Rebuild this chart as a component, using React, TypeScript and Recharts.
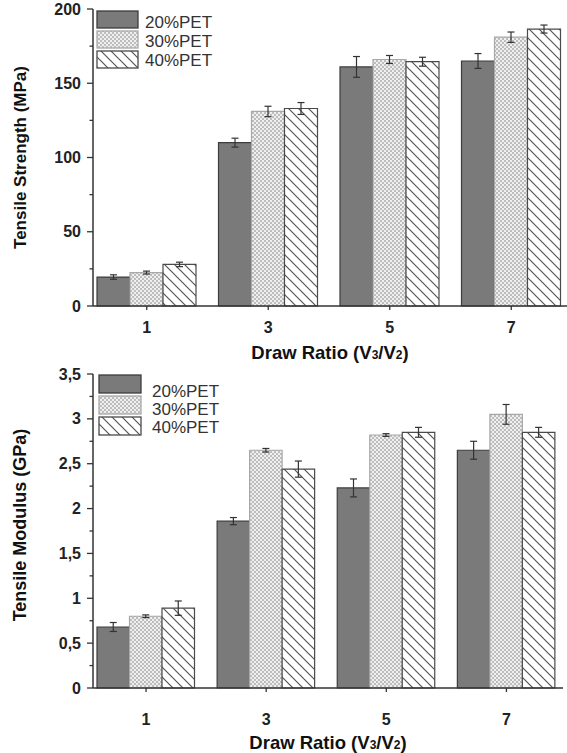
import React from 'react';
import { BarChart, Bar, XAxis, YAxis, ErrorBar, Legend } from 'recharts';

const categories = ['1', '3', '5', '7'];
const seriesNames = ['20%PET', '30%PET', '40%PET'];

const strength20 = [19.5, 110, 161, 165];
const strength30 = [22.5, 131, 166, 181];
const strength40 = [28, 133, 164.5, 186.5];
const strengthErr20 = [1.5, 3, 7, 5];
const strengthErr30 = [1, 3.5, 2.7, 3.5];
const strengthErr40 = [1.5, 4, 3, 2.7];

const modulus20 = [0.68, 1.86, 2.23, 2.65];
const modulus30 = [0.8, 2.65, 2.82, 3.05];
const modulus40 = [0.89, 2.44, 2.85, 2.85];
const modulusErr20 = [0.05, 0.04, 0.1, 0.1];
const modulusErr30 = [0.015, 0.02, 0.015, 0.11];
const modulusErr40 = [0.08, 0.09, 0.055, 0.055];

const strengthTicks = [0, 25, 50, 75, 100, 125, 150, 175, 200];
const strengthMajor = [0, 50, 100, 150, 200];
const modulusTicks = [0, 0.25, 0.5, 0.75, 1, 1.25, 1.5, 1.75, 2, 2.25, 2.5, 2.75, 3, 3.25, 3.5];
const modulusMajor = [0, 0.5, 1, 1.5, 2, 2.5, 3, 3.5];

const strengthData = categories.map((c, i) => ({
  cat: c,
  s20: strength20[i], e20: strengthErr20[i],
  s30: strength30[i], e30: strengthErr30[i],
  s40: strength40[i], e40: strengthErr40[i],
}));
const modulusData = categories.map((c, i) => ({
  cat: c,
  s20: modulus20[i], e20: modulusErr20[i],
  s30: modulus30[i], e30: modulusErr30[i],
  s40: modulus40[i], e40: modulusErr40[i],
}));

const FONT = '"Liberation Sans", Arial, Helvetica, sans-serif';
const seriesKeys = ['s20', 's30', 's40'];
const errKeys = ['e20', 'e30', 'e40'];
const seriesStyles: Record<string, { fill: string; stroke: string }> = {
  s20: { fill: '#7a7a7a', stroke: '#3c3c3c' },
  s30: { fill: 'url(#dots)', stroke: '#a8a8a8' },
  s40: { fill: 'url(#hatch)', stroke: '#4a4a4a' },
};

const isMajor = (v: number, major: number[]) => major.some((m) => Math.abs(m - v) < 1e-6);

const YTick = (p: any) => {
  const { x, y, payload, major, fmt } = p;
  const mj = isMajor(payload.value, major);
  return (
    <g>
      <line x1={x} x2={x - (mj ? 6 : 3.5)} y1={y} y2={y} stroke="#333" strokeWidth={1.3} />
      {mj && (
        <text x={x - 12} y={y} textAnchor="end" dominantBaseline="central" fontFamily={FONT}
          fontWeight="bold" fontSize={16} fill="#222">{fmt(payload.value)}</text>
      )}
    </g>
  );
};

const XTick = (p: any) => {
  const { x, y, payload, off } = p;
  return (
    <g>
      <line x1={x} x2={x} y1={y} y2={y + 4} stroke="#333" strokeWidth={1.3} />
      <text x={x} y={y + off} textAnchor="middle" dominantBaseline="central" fontFamily={FONT}
        fontWeight="bold" fontSize={16} fill="#222">{payload.value}</text>
    </g>
  );
};

const Title = (p: any) => {
  const { viewBox, gap } = p;
  const cx = viewBox.x + viewBox.width / 2;
  return (
    <text x={cx} y={viewBox.y + gap} textAnchor="middle" dominantBaseline="central" fontFamily={FONT}
      fontWeight="bold" fontSize={18.5} fill="#111">
      Draw Ratio (V<tspan fontSize={12} dy={3}>3</tspan><tspan dy={-3}>/V</tspan>
      <tspan fontSize={12} dy={3}>2</tspan><tspan dy={-3}>)</tspan>
    </text>
  );
};

const YTitle = (p: any) => {
  const { viewBox, text, size, cy } = p;
  const c = cy != null ? cy : viewBox.y + viewBox.height / 2;
  return (
    <text transform={`translate(20, ${c}) rotate(-90)`} textAnchor="middle" dominantBaseline="central"
      fontFamily={FONT} fontWeight="bold" fontSize={size} fill="#111">{text}</text>
  );
};

type LegendGeom = { sx: number; sy: number[]; sw: number; sh: number; tx: number; ty: number[]; fs: number };

const LegendBox = (p: any) => {
  const { payload, g } = p;
  const items = (payload || []).slice();
  return (
    <svg width={300} height={100} style={{ display: 'block', overflow: 'visible' }}>
      {items.map((entry: any, idx: number) => {
        const k = String(entry.dataKey);
        const i = seriesKeys.indexOf(k) >= 0 ? seriesKeys.indexOf(k) : idx;
        const st = seriesStyles[seriesKeys[i]];
        return (
          <g key={k}>
            <rect x={g.sx} y={g.sy[i]} width={g.sw} height={g.sh} fill={st.fill} stroke={st.stroke} strokeWidth={1.3} />
            <text x={g.tx} y={g.ty[i]} dominantBaseline="central" fontFamily={FONT} fontSize={g.fs} fill="#333">
              {seriesNames[i]}
            </text>
          </g>
        );
      })}
    </svg>
  );
};

type PanelProps = {
  data: any[]; ticks: number[]; major: number[]; domain: [number, number];
  yLabel: string; yLabelSize: number; yLabelCy?: number; fmt: (v: number) => string; height: number; axisH: number;
  labelOff: number; titleGap: number; padL: number; padR: number; marginRight: number;
  topStroke: string; rightBorder: boolean; legend: LegendGeom; barSize: number;
};

const Panel = (pp: PanelProps) => (
  <BarChart width={567} height={pp.height} data={pp.data} barGap={0} barSize={pp.barSize}
    margin={{ top: 9, right: pp.marginRight, left: 0, bottom: 0 }}>
    <XAxis dataKey="cat" height={pp.axisH} tickSize={0} tickMargin={0} tickLine={false}
      axisLine={{ stroke: '#333', strokeWidth: 1.5 }} padding={{ left: pp.padL, right: pp.padR }}
      interval={0} tick={(p: any) => <XTick {...p} off={pp.labelOff} />}
      label={{ content: (p: any) => <Title {...p} gap={pp.titleGap} /> }} />
    <XAxis xAxisId="top" dataKey="cat" orientation="top" height={0} tick={false} tickLine={false}
      axisLine={{ stroke: pp.topStroke, strokeWidth: 1.5 }} />
    <YAxis width={93} domain={pp.domain} ticks={pp.ticks} interval={0} tickSize={0} tickMargin={0}
      tickLine={false} axisLine={{ stroke: '#333', strokeWidth: 1.5 }}
      tick={(p: any) => <YTick {...p} major={pp.major} fmt={pp.fmt} />}
      label={{ content: (p: any) => <YTitle {...p} text={pp.yLabel} size={pp.yLabelSize} cy={pp.yLabelCy} /> }} />
    {pp.rightBorder && (
      <YAxis yAxisId="right" orientation="right" width={0} domain={pp.domain} tick={false} tickLine={false}
        axisLine={{ stroke: '#444', strokeWidth: 1.5 }} />
    )}
    <Legend layout="vertical" align="center" verticalAlign="middle"
      wrapperStyle={{ left: 0, top: 0, width: 300, height: 100 }}
      content={(p: any) => <LegendBox {...p} g={pp.legend} />} />
    {seriesKeys.map((k, i) => (
      <Bar key={k} dataKey={k} name={seriesNames[i]} fill={seriesStyles[k].fill} stroke={seriesStyles[k].stroke}
        strokeWidth={1.2} isAnimationActive={false}>
        <ErrorBar dataKey={errKeys[i]} width={3.5} stroke="#333" strokeWidth={1.2} isAnimationActive={false} />
      </Bar>
    ))}
  </BarChart>
);

export default function App() {
  return (
    <div style={{ position: 'absolute', left: 0, top: 0, width: 567, height: 753, background: '#fff' }}>
      <svg width={0} height={0} style={{ position: 'absolute' }}>
        <defs>
          <pattern id="dots" patternUnits="userSpaceOnUse" width={4} height={4}>
            <rect x={0} y={0} width={4} height={4} fill="#efefef" />
            <rect x={0} y={0} width={2} height={2} fill="#bdbdbd" />
            <rect x={2} y={2} width={2} height={2} fill="#bdbdbd" />
          </pattern>
          <pattern id="hatch" patternUnits="userSpaceOnUse" width={10} height={10}>
            <rect x={0} y={0} width={10} height={10} fill="#ffffff" />
            <path d="M0,0 L10,10 M-2,8 L2,12 M8,-2 L12,2" stroke="#555" strokeWidth={1.2} />
          </pattern>
        </defs>
      </svg>
      <div style={{ position: 'absolute', left: 0, top: 0 }}>
        <Panel data={strengthData} ticks={strengthTicks} major={strengthMajor} domain={[0, 200]}
          yLabel="Tensile Strength (MPa)" yLabelSize={17} fmt={(v) => String(v)} height={365} axisH={59}
          labelOff={21} titleGap={46} padL={-7} padR={-5} marginRight={0} topStroke="#999"
          rightBorder={false} barSize={33}
          legend={{ sx: 97, sy: [11, 31, 51], sw: 41, sh: 17, tx: 145, ty: [22, 41, 60], fs: 17 }} />
      </div>
      <div style={{ position: 'absolute', left: 0, top: 365 }}>
        <Panel data={modulusData} ticks={modulusTicks} major={modulusMajor} domain={[0, 3.5]}
          yLabel="Tensile Modulus (GPa)" yLabelSize={18} yLabelCy={160}
          fmt={(v) => String(v).replace('.', ',')} height={388} axisH={65}
          labelOff={31} titleGap={54} padL={-7} padR={-3.5} marginRight={4} topStroke="#333"
          rightBorder={true} barSize={32.5}
          legend={{ sx: 99, sy: [10, 31, 52], sw: 42, sh: 18, tx: 152, ty: [26, 44, 62], fs: 17 }} />
      </div>
    </div>
  );
}
